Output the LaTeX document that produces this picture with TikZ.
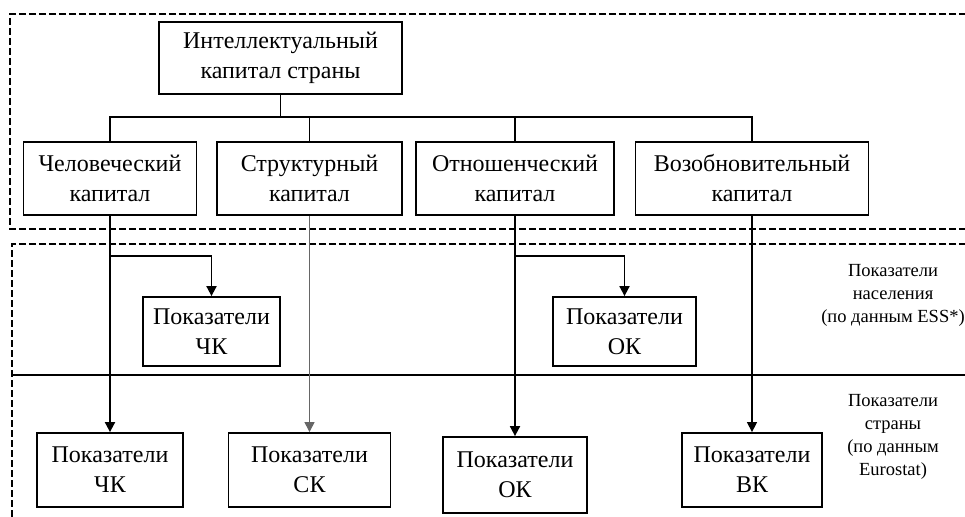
\documentclass[tikz,border=0pt]{standalone}
\usepackage{fontspec}
\setmainfont{Liberation Serif}
\usepackage{tikz}
\usetikzlibrary{arrows.meta}

\begin{document}
\begin{tikzpicture}[x=1pt, y=-1pt,
  box/.style={draw, line width=1.8pt, inner sep=0pt, align=center,
    font=\fontsize{24}{30}\selectfont},
  note/.style={align=center, font=\fontsize{18.5}{23}\selectfont},
  arr/.style={line width=1.8pt, -{Triangle[length=10pt, width=10pt]}}]

\useasboundingbox (0,0) rectangle (965,516);

% dashed frames
\draw[dashed, dash pattern=on 7pt off 3pt, line width=1.6pt] (966,14) -- (10,14) -- (10,229) -- (966,229);
\draw[dashed, dash pattern=on 7pt off 3pt, line width=1.6pt] (966,244) -- (12,244) -- (12,517);
\draw[line width=1.6pt] (12,375) -- (966,375);

% boxes
\node[box, minimum width=243pt, minimum height=72pt] (top) at (280.5,58) {Интеллектуальный\\капитал страны};

\node[box, minimum width=173pt, minimum height=73pt] (hum) at (110,178.5) {Человеческий\\капитал};
\node[box, minimum width=185pt, minimum height=73pt] (str) at (309.5,178.5) {Структурный\\капитал};
\node[box, minimum width=198pt, minimum height=73pt] (rel) at (515,178.5) {Отношенческий\\капитал};
\node[box, minimum width=233pt, minimum height=73pt] (ren) at (752,178.5) {Возобновительный\\капитал};

\node[box, minimum width=137pt, minimum height=69pt] (humP) at (211.5,331.5) {Показатели\\ЧК};
\node[box, minimum width=143pt, minimum height=69pt] (relP) at (624.5,331.5) {Показатели\\ОК};

\node[box, minimum width=146pt, minimum height=74pt] (humC) at (110,470) {Показатели\\ЧК};
\node[box, minimum width=162pt, minimum height=74pt] (strC) at (309.5,470) {Показатели\\СК};
\node[box, minimum width=144pt, minimum height=76pt] (relC) at (515,475) {Показатели\\ОК};
\node[box, minimum width=140pt, minimum height=74pt] (renC) at (752,470) {Показатели\\ВК};

\node[note] (ess) at (893,295) {Показатели\\населения\\(по данным ESS*)};
\node[note] (eurostat) at (893,437) {Показатели\\страны\\(по данным\\Eurostat)};

% tree
\coordinate (bus) at (280.5,117);
\draw[line width=1.8pt] (top.south) -- (bus);
\draw[line width=1.8pt] (hum.north) -- (hum.north |- bus) -- (ren.north |- bus) -- (ren.north);
\draw[line width=1.8pt] (str.north) -- (str.north |- bus);
\draw[line width=1.8pt] (rel.north) -- (rel.north |- bus);

% arrows down
\coordinate (brH) at (110,256);
\coordinate (brR) at (515,256);
\draw[arr] (hum.south) -- (humC.north);
\draw[arr] (brH) -| (humP.north);
\draw[arr, line width=1pt, draw=black!60] (str.south) -- (strC.north);
\draw[arr] (rel.south) -- (relC.north);
\draw[arr] (brR) -| (relP.north);
\draw[arr, line width=1.4pt] (ren.south) -- (renC.north);

\end{tikzpicture}
\end{document}
